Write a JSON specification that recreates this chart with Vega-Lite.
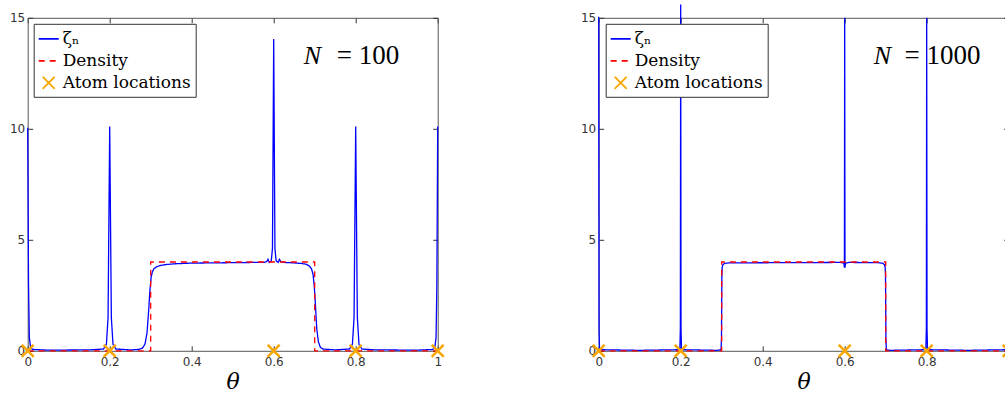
{
  "$schema": "https://vega.github.io/schema/vega-lite/v6.json",
  "autosize": {"type": "pad"},
  "padding": {"left": 8.7, "top": 1.8, "right": 0, "bottom": 0},
  "background": "white",
  "bounds": "flush",
  "spacing": 161,
  "datasets": {
    "z100": [
      {"t": 0, "z": 10.05}, {"t": 0.002, "z": 3.0}, {"t": 0.004, "z": 0.6}, {"t": 0.007, "z": 0.15}, {"t": 0.012, "z": 0.06},
      {"t": 0.05, "z": 0.03}, {"t": 0.15, "z": 0.04}, {"t": 0.185, "z": 0.08}, {"t": 0.192, "z": 0.3}, {"t": 0.196, "z": 1.5},
      {"t": 0.2, "z": 10.1}, {"t": 0.204, "z": 1.5}, {"t": 0.208, "z": 0.3}, {"t": 0.215, "z": 0.08}, {"t": 0.25, "z": 0.04},
      {"t": 0.27, "z": 0.06}, {"t": 0.28, "z": 0.12}, {"t": 0.286, "z": 0.3}, {"t": 0.291, "z": 0.8}, {"t": 0.295, "z": 1.8},
      {"t": 0.298, "z": 2.7}, {"t": 0.301, "z": 3.3}, {"t": 0.304, "z": 3.55}, {"t": 0.308, "z": 3.7}, {"t": 0.315, "z": 3.79},
      {"t": 0.325, "z": 3.85}, {"t": 0.34, "z": 3.89}, {"t": 0.36, "z": 3.92}, {"t": 0.4, "z": 3.95}, {"t": 0.45, "z": 3.96},
      {"t": 0.5, "z": 3.97}, {"t": 0.55, "z": 3.98}, {"t": 0.575, "z": 3.98}, {"t": 0.583, "z": 4.02}, {"t": 0.586, "z": 4.12},
      {"t": 0.589, "z": 3.98}, {"t": 0.594, "z": 4.05}, {"t": 0.597, "z": 4.6}, {"t": 0.6, "z": 14.05}, {"t": 0.603, "z": 4.6},
      {"t": 0.606, "z": 4.05}, {"t": 0.611, "z": 3.98}, {"t": 0.614, "z": 4.12}, {"t": 0.617, "z": 4.02}, {"t": 0.625, "z": 3.98},
      {"t": 0.65, "z": 3.96}, {"t": 0.67, "z": 3.93}, {"t": 0.68, "z": 3.89}, {"t": 0.687, "z": 3.82}, {"t": 0.692, "z": 3.7},
      {"t": 0.696, "z": 3.45}, {"t": 0.699, "z": 2.9}, {"t": 0.702, "z": 2.0}, {"t": 0.705, "z": 1.0}, {"t": 0.709, "z": 0.4},
      {"t": 0.714, "z": 0.15}, {"t": 0.72, "z": 0.08}, {"t": 0.75, "z": 0.04}, {"t": 0.785, "z": 0.08}, {"t": 0.792, "z": 0.3},
      {"t": 0.796, "z": 1.5}, {"t": 0.8, "z": 10.1}, {"t": 0.804, "z": 1.5}, {"t": 0.808, "z": 0.3}, {"t": 0.815, "z": 0.08},
      {"t": 0.85, "z": 0.04}, {"t": 0.95, "z": 0.03}, {"t": 0.988, "z": 0.06}, {"t": 0.993, "z": 0.15}, {"t": 0.996, "z": 0.6},
      {"t": 0.998, "z": 3.0}, {"t": 1, "z": 10.1}
    ],
    "z1000": [
      {"t": 0, "z": 15.05}, {"t": 0.0008, "z": 1.0}, {"t": 0.002, "z": 0.05}, {"t": 0.1, "z": 0.02}, {"t": 0.198, "z": 0.05},
      {"t": 0.1992, "z": 1.0}, {"t": 0.2, "z": 15.6}, {"t": 0.2008, "z": 1.0}, {"t": 0.202, "z": 0.05}, {"t": 0.29, "z": 0.02},
      {"t": 0.2985, "z": 0.05}, {"t": 0.2995, "z": 0.6}, {"t": 0.3, "z": 2.2}, {"t": 0.3005, "z": 3.4}, {"t": 0.3012, "z": 3.75},
      {"t": 0.303, "z": 3.88}, {"t": 0.307, "z": 3.94}, {"t": 0.32, "z": 3.96}, {"t": 0.45, "z": 3.97}, {"t": 0.59, "z": 3.98},
      {"t": 0.598, "z": 3.95}, {"t": 0.5993, "z": 3.75}, {"t": 0.6, "z": 15.0}, {"t": 0.6007, "z": 3.75}, {"t": 0.602, "z": 3.95},
      {"t": 0.61, "z": 3.98}, {"t": 0.68, "z": 3.97}, {"t": 0.693, "z": 3.94}, {"t": 0.697, "z": 3.88}, {"t": 0.6988, "z": 3.75},
      {"t": 0.6995, "z": 3.4}, {"t": 0.7, "z": 2.2}, {"t": 0.7005, "z": 0.6}, {"t": 0.7015, "z": 0.05}, {"t": 0.71, "z": 0.02},
      {"t": 0.798, "z": 0.05}, {"t": 0.7992, "z": 1.0}, {"t": 0.8, "z": 15.0}, {"t": 0.8008, "z": 1.0}, {"t": 0.802, "z": 0.05},
      {"t": 0.9, "z": 0.02}, {"t": 0.998, "z": 0.05}, {"t": 0.9992, "z": 1.0}, {"t": 1, "z": 15.0}
    ],
    "dens": [
      {"k": 0, "t": 0, "d": 0}, {"k": 1, "t": 0.3, "d": 0}, {"k": 2, "t": 0.3, "d": 4},
      {"k": 3, "t": 0.7, "d": 4}, {"k": 4, "t": 0.7, "d": 0}, {"k": 5, "t": 1, "d": 0}
    ],
    "atoms": [
      {"t": 0, "y": 0}, {"t": 0.2, "y": 0}, {"t": 0.6, "y": 0}, {"t": 0.8, "y": 0}, {"t": 1, "y": 0}
    ]
  },
  "config": {
    "font": "DejaVu Sans",
    "view": {"stroke": null},
    "axis": {
      "grid": false, "tickSize": -5, "domainColor": "#555555", "tickColor": "#333333", "domainWidth": 1,
      "labelColor": "#333333", "labelFont": "DejaVu Sans", "labelFontSize": 12, "labelFlush": false, "labelOverlap": false,
      "titleFont": "DejaVu Serif", "titleFontStyle": "italic", "titleFontWeight": "normal", "titleFontSize": 22, "titleColor": "black"
    },
    "legend": {
      "orient": "none", "title": null, "symbolType": "stroke", "symbolSize": 400, "symbolStrokeWidth": 1.8,
      "labelFont": "DejaVu Serif", "labelFontSize": 17, "labelColor": "black", "labelOffset": 3, "labelLimit": 0,
      "strokeColor": "#333333", "fillColor": "white", "padding": 4, "rowPadding": 3, "cornerRadius": 0
    }
  },
  "resolve": {"scale": {"color": "independent", "strokeDash": "independent", "shape": "independent"}, "legend": {"color": "independent", "strokeDash": "independent", "shape": "independent"}},
  "hconcat": [
    {
      "width": 410, "height": 333,
      "resolve": {"axis": {"x": "independent", "y": "independent"}},
      "layer": [
        {
          "data": {"name": "z100"},
          "mark": {"type": "line", "strokeWidth": 1.3},
          "encoding": {
            "x": {"field": "t", "type": "quantitative", "scale": {"domain": [0, 1], "nice": false, "zero": false}, "axis": null},
            "y": {"field": "z", "type": "quantitative", "scale": {"domain": [0, 15], "nice": false}, "axis": null},
            "color": {
              "datum": "ζₙ", "type": "nominal",
              "scale": {"domain": ["ζₙ", "Density", "Atom locations"], "range": ["#0000FF", "#FF0000", "#F9A602"]},
              "legend": {"orient": "none", "legendX": 6, "legendY": 6, "title": null}
            },
            "strokeDash": {
              "datum": "ζₙ", "type": "nominal",
              "scale": {"domain": ["ζₙ", "Density", "Atom locations"], "range": [[1, 0], [6, 5], [1, 0]]},
              "legend": {"orient": "none", "legendX": 6, "legendY": 6, "title": null}
            }
          }
        },
        {
          "data": {"name": "dens"},
          "mark": {"type": "line", "strokeWidth": 1.3},
          "encoding": {
            "x": {"field": "t", "type": "quantitative", "axis": {"orient": "bottom", "values": [0, 0.2, 0.4, 0.6, 0.8, 1], "format": "~g", "title": "θ", "labelPadding": 11, "titlePadding": 4}},
            "y": {"field": "d", "type": "quantitative", "axis": {"orient": "left", "values": [0, 5, 10, 15], "labelPadding": 8, "title": null}},
            "order": {"field": "k", "type": "quantitative"},
            "color": {"datum": "Density", "type": "nominal"},
            "strokeDash": {"datum": "Density", "type": "nominal"}
          }
        },
        {
          "data": {"name": "atoms"},
          "mark": {"type": "point", "size": 400, "strokeWidth": 2.5, "filled": false, "opacity": 1},
          "encoding": {
            "x": {"field": "t", "type": "quantitative", "axis": {"orient": "top", "values": [0, 0.2, 0.4, 0.6, 0.8, 1], "labels": false, "title": null}},
            "y": {"field": "y", "type": "quantitative", "axis": {"orient": "right", "values": [0, 5, 10, 15], "labels": false, "title": null}},
            "color": {"datum": "Atom locations", "type": "nominal"},
            "strokeDash": {"datum": "Atom locations", "type": "nominal"},
            "shape": {
              "datum": "Atom locations", "type": "nominal",
              "scale": {"domain": ["ζₙ", "Density", "Atom locations"], "range": ["stroke", "stroke", "M-0.6,-0.6L0.6,0.6M-0.6,0.6L0.6,-0.6"]},
              "legend": {"orient": "none", "legendX": 6, "legendY": 6, "title": null}
            }
          }
        },
        {
          "data": {"values": [{}]},
          "mark": {"type": "text", "text": "N", "font": "Liberation Serif", "fontStyle": "italic", "fontSize": 26, "align": "left", "baseline": "alphabetic", "color": "black"},
          "encoding": {"x": {"datum": 0.673, "type": "quantitative", "axis": null}, "y": {"datum": 12.93, "type": "quantitative", "axis": null}}
        },
        {
          "data": {"values": [{}]},
          "mark": {"type": "text", "text": "= 100", "font": "Liberation Serif", "fontSize": 27, "align": "left", "baseline": "alphabetic", "color": "black"},
          "encoding": {"x": {"datum": 0.754, "type": "quantitative", "axis": null}, "y": {"datum": 12.93, "type": "quantitative", "axis": null}}
        }
      ]
    },
    {
      "width": 410, "height": 333,
      "resolve": {"axis": {"x": "independent", "y": "independent"}},
      "layer": [
        {
          "data": {"name": "z1000"},
          "mark": {"type": "line", "strokeWidth": 1.3},
          "encoding": {
            "x": {"field": "t", "type": "quantitative", "scale": {"domain": [0, 1], "nice": false, "zero": false}, "axis": null},
            "y": {"field": "z", "type": "quantitative", "scale": {"domain": [0, 15], "nice": false}, "axis": null},
            "color": {
              "datum": "ζₙ", "type": "nominal",
              "scale": {"domain": ["ζₙ", "Density", "Atom locations"], "range": ["#0000FF", "#FF0000", "#F9A602"]},
              "legend": {"orient": "none", "legendX": 7, "legendY": 6, "title": null}
            },
            "strokeDash": {
              "datum": "ζₙ", "type": "nominal",
              "scale": {"domain": ["ζₙ", "Density", "Atom locations"], "range": [[1, 0], [6, 5], [1, 0]]},
              "legend": {"orient": "none", "legendX": 7, "legendY": 6, "title": null}
            }
          }
        },
        {
          "data": {"name": "dens"},
          "mark": {"type": "line", "strokeWidth": 1.3},
          "encoding": {
            "x": {"field": "t", "type": "quantitative", "axis": {"orient": "bottom", "values": [0, 0.2, 0.4, 0.6, 0.8, 1], "format": "~g", "title": "θ", "labelPadding": 11, "titlePadding": 4}},
            "y": {"field": "d", "type": "quantitative", "axis": {"orient": "left", "values": [0, 5, 10, 15], "labelPadding": 8, "title": null}},
            "order": {"field": "k", "type": "quantitative"},
            "color": {"datum": "Density", "type": "nominal"},
            "strokeDash": {"datum": "Density", "type": "nominal"}
          }
        },
        {
          "data": {"name": "atoms"},
          "mark": {"type": "point", "size": 400, "strokeWidth": 2.5, "filled": false, "opacity": 1},
          "encoding": {
            "x": {"field": "t", "type": "quantitative", "axis": {"orient": "top", "values": [0, 0.2, 0.4, 0.6, 0.8, 1], "labels": false, "title": null}},
            "y": {"field": "y", "type": "quantitative", "axis": {"orient": "right", "values": [0, 5, 10, 15], "labels": false, "title": null}},
            "color": {"datum": "Atom locations", "type": "nominal"},
            "strokeDash": {"datum": "Atom locations", "type": "nominal"},
            "shape": {
              "datum": "Atom locations", "type": "nominal",
              "scale": {"domain": ["ζₙ", "Density", "Atom locations"], "range": ["stroke", "stroke", "M-0.6,-0.6L0.6,0.6M-0.6,0.6L0.6,-0.6"]},
              "legend": {"orient": "none", "legendX": 7, "legendY": 6, "title": null}
            }
          }
        },
        {
          "data": {"values": [{}]},
          "mark": {"type": "text", "text": "N", "font": "Liberation Serif", "fontStyle": "italic", "fontSize": 26, "align": "left", "baseline": "alphabetic", "color": "black"},
          "encoding": {"x": {"datum": 0.671, "type": "quantitative", "axis": null}, "y": {"datum": 12.93, "type": "quantitative", "axis": null}}
        },
        {
          "data": {"values": [{}]},
          "mark": {"type": "text", "text": "= 1000", "font": "Liberation Serif", "fontSize": 27, "align": "left", "baseline": "alphabetic", "color": "black"},
          "encoding": {"x": {"datum": 0.746, "type": "quantitative", "axis": null}, "y": {"datum": 12.93, "type": "quantitative", "axis": null}}
        }
      ]
    }
  ]
}
